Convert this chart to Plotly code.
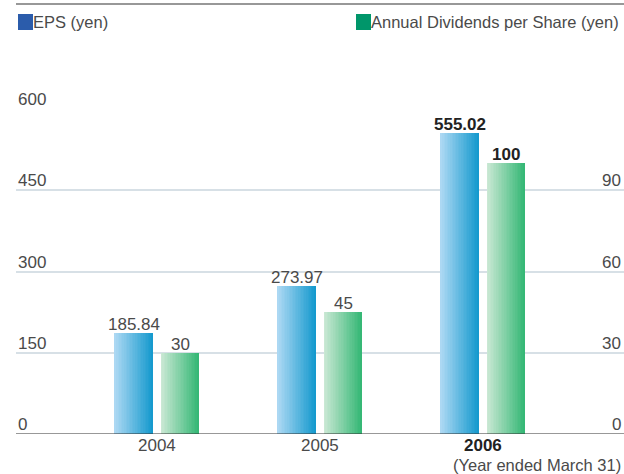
import plotly.graph_objects as go

# Data
years = ["2004", "2005", "2006"]
eps = [185.84, 273.97, 555.02]
dividends = [30, 45, 100]
eps_ticks = [0, 150, 300, 450, 600]
div_ticks = [0, 30, 60, 90]

# Figure geometry (pixels)
W, H = 624, 474
L, R, T, B = 16, 0, 109, 40
PW, PH = W - L - R, H - T - B


def px(xp):
    return (xp - L) / PW


def py(yp):
    return (H - B - yp) / PH


FONT = "Liberation Sans, Arial, sans-serif"
TXT = "#4a4a4a"
FS = 17

x = list(range(len(years)))
bar_w = 0.233
gap = 0.05
n_slices = 24


def lerp(c1, c2, t):
    return "rgb({},{},{})".format(*[round(a + (b - a) * t) for a, b in zip(c1, c2)])


fig = go.Figure()


def gradient_bars(values, start, c_left, c_right, axis):
    sw = bar_w / n_slices
    for i in range(n_slices):
        t = i / (n_slices - 1)
        fig.add_trace(go.Bar(
            x=x, y=values, width=[sw * 1.02] * len(x),
            offset=start + i * sw,
            marker=dict(color=lerp(c_left, c_right, t), line=dict(width=0)),
            yaxis=axis, showlegend=False, hoverinfo="skip",
        ))


gradient_bars(eps, -gap / 2 - bar_w, (172, 216, 243), (22, 154, 206), "y")
gradient_bars(dividends, gap / 2, (202, 232, 212), (54, 184, 118), "y2")

ann = []
# Value labels above the bars
for i, (e, d) in enumerate(zip(eps, dividends)):
    last = i == len(years) - 1
    col = "#222" if last else TXT
    fmt = "<b>{}</b>" if last else "{}"
    ann.append(dict(x=i - gap / 2 - bar_w / 2, y=e, xref="x", yref="y",
                    text=fmt.format(f"{e:.2f}"), showarrow=False, yanchor="bottom",
                    yshift=-3, font=dict(size=FS, color=col)))
    ann.append(dict(x=i + gap / 2 + bar_w / 2, y=d, xref="x", yref="y2",
                    text=fmt.format(f"{d}"), showarrow=False, yanchor="bottom",
                    yshift=-3, font=dict(size=FS, color=col)))

# Left axis labels sit above the gridlines
for v in eps_ticks:
    ann.append(dict(x=0, y=v, xref="paper", yref="y", text=str(v), showarrow=False,
                    xanchor="left", yanchor="bottom", xshift=0, yshift=-2,
                    font=dict(size=FS, color=TXT)))
# Right axis labels
for v in div_ticks:
    ann.append(dict(x=1, y=v, xref="paper", yref="y2", text=str(v), showarrow=False,
                    xanchor="right", yanchor="bottom", xshift=-1, yshift=-2,
                    font=dict(size=FS, color=TXT)))

# Category labels
for i, yv in enumerate(years):
    last = i == len(years) - 1
    ann.append(dict(x=i, y=0, xref="x", yref="paper",
                    text=f"<b>{yv}</b>" if last else yv, showarrow=False,
                    yanchor="top", yshift=0,
                    font=dict(size=FS, color="#222" if last else TXT)))
ann.append(dict(x=px(623), y=py(465), xref="paper", yref="paper",
                text="(Year ended March 31)", showarrow=False, xanchor="right",
                yanchor="middle", font=dict(size=16.5, color=TXT)))

# Legend
ann.append(dict(x=px(33), y=py(22), xref="paper", yref="paper", text="EPS (yen)",
                showarrow=False, xanchor="left", yanchor="middle", xshift=-2,
                font=dict(size=16.5, color=TXT)))
ann.append(dict(x=px(371), y=py(22), xref="paper", yref="paper",
                text="Annual Dividends per Share (yen)", showarrow=False,
                xanchor="left", yanchor="middle", xshift=-2,
                font=dict(size=16.5, color=TXT)))

shapes = [
    dict(type="rect", xref="paper", yref="paper", x0=px(18), x1=px(33),
         y0=py(30), y1=py(14), fillcolor="#2b5cab", line=dict(width=0)),
    dict(type="rect", xref="paper", yref="paper", x0=px(356), x1=px(371),
         y0=py(30), y1=py(14), fillcolor="#00966a", line=dict(width=0)),
    dict(type="line", xref="paper", yref="paper", x0=0, x1=1,
         y0=py(4), y1=py(4), line=dict(color="#333", width=1.2)),
    dict(type="line", xref="paper", yref="y", x0=0, x1=1,
         y0=0, y1=0, line=dict(color="#333", width=1.2)),
]

fig.update_layout(
    width=W, height=H,
    margin=dict(l=L, r=R, t=T, b=B),
    paper_bgcolor="white", plot_bgcolor="white",
    barmode="overlay", bargap=0,
    font=dict(family=FONT, size=FS, color=TXT),
    xaxis=dict(range=[-(157 - L) / 163, (W - 157) / 163], showticklabels=False,
               showgrid=False, zeroline=False, showline=False, fixedrange=True),
    yaxis=dict(range=[0, 600], tickvals=eps_ticks, showticklabels=False,
               showgrid=True, gridcolor="#d7e0e6", gridwidth=1.5,
               zeroline=False, showline=False),
    yaxis2=dict(range=[0, 120], overlaying="y", side="right", showticklabels=False,
                showgrid=False, zeroline=False, showline=False),
    annotations=ann, shapes=shapes, showlegend=False,
)

fig.write_html("out.html")
